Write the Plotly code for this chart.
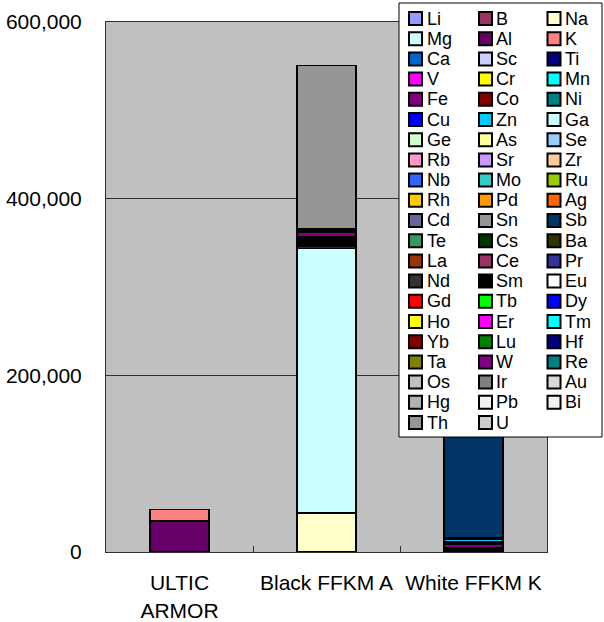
import plotly.graph_objects as go

# ---------------- data ----------------
elements = ["Li", "B", "Na", "Mg", "Al", "K", "Ca", "Sc", "Ti", "V", "Cr", "Mn",
            "Fe", "Co", "Ni", "Cu", "Zn", "Ga", "Ge", "As", "Se", "Rb", "Sr", "Zr",
            "Nb", "Mo", "Ru", "Rh", "Pd", "Ag", "Cd", "Sn", "Sb", "Te", "Cs", "Ba",
            "La", "Ce", "Pr", "Nd", "Sm", "Eu", "Gd", "Tb", "Dy", "Ho", "Er", "Tm",
            "Yb", "Lu", "Hf", "Ta", "W", "Re", "Os", "Ir", "Au", "Hg", "Pb", "Bi",
            "Th", "U"]

colors = ["#9999FF", "#993366", "#FFFFCC", "#CCFFFF", "#660066", "#FF8080",
          "#0066CC", "#CCCCFF", "#000080", "#FF00FF", "#FFFF00", "#00FFFF",
          "#800080", "#800000", "#008080", "#0000FF", "#00CCFF", "#CCFFFF",
          "#CCFFCC", "#FFFF99", "#99CCFF", "#FF99CC", "#CC99FF", "#FFCC99",
          "#3366FF", "#33CCCC", "#99CC00", "#FFCC00", "#FF9900", "#FF6600",
          "#666699", "#969696", "#003366", "#339966", "#003300", "#333300",
          "#993300", "#993366", "#333399", "#333333", "#000000", "#FFFFFF",
          "#FF0000", "#00FF00", "#0000FF", "#FFFF00", "#FF00FF", "#00FFFF",
          "#800000", "#008000", "#000080", "#808000", "#800080", "#008080",
          "#C0C0C0", "#808080", "#D9D9D9", "#B2B2B2", "#F2F2F2", "#F2F2F2",
          "#969696", "#CCCCCC"]

samples = ["ULTIC<br>ARMOR", "Black FFKM A", "White FFKM K"]

ultic_armor = {"Al": 35000, "K": 13000}
black_ffkm_a = {"Na": 44000, "Mg": 299500, "Al": 3000, "K": 1500, "Ca": 1500,
                "Sc": 1500, "Ti": 1500, "V": 1500, "Cr": 1500, "Mn": 1500,
                "Fe": 5000, "Co": 1500, "Ni": 1500, "Cu": 1500, "Sn": 184500}
white_ffkm_k = {"Mg": 1250, "Al": 1250, "K": 1250, "Ca": 1250, "Fe": 4000,
                "Co": 1500, "Ni": 1500, "Zn": 3000, "Cd": 1500, "Sb": 153500}

y_ticks = [0, 200000, 400000, 600000]

# ---------------- layout constants ----------------
W, H = 604, 622
L, T, PW, PH = 106, 22, 441, 530
FONT = "Liberation Sans, Arial, sans-serif"


def fx(p):
    return (p - L) / PW


def fy(p):
    return (T + PH - p) / PH


fig = go.Figure()
for el, col in zip(elements, colors):
    vals = [d.get(el) for d in (ultic_armor, black_ffkm_a, white_ffkm_k)]
    fig.add_trace(go.Bar(
        name=el, x=samples, y=vals, width=0.4,
        marker=dict(color=col, line=dict(color="black", width=1.5)),
        showlegend=False, hovertemplate=el + ": %{y:,}<extra></extra>",
    ))

# ---------------- hand-built legend (3 columns) ----------------
shapes = [dict(type="rect", xref="paper", yref="paper",
               x0=fx(399), x1=fx(602), y0=fy(437), y1=fy(3),
               fillcolor="white", line=dict(color="black", width=1), layer="above")]
annotations = []
col_marker_x = [408, 478, 546.5]
col_text_x = [426, 495, 564]
row0, pitch = 18.5, 20.2
for i, (el, col) in enumerate(zip(elements, colors)):
    r, c = divmod(i, 3)
    cy = row0 + r * pitch
    mx = col_marker_x[c]
    shapes.append(dict(type="rect", xref="paper", yref="paper",
                       x0=fx(mx + 1), x1=fx(mx + 14), y0=fy(cy + 6.5), y1=fy(cy - 6.5),
                       fillcolor=col, line=dict(color="black", width=2), layer="above"))
    annotations.append(dict(xref="paper", yref="paper", x=fx(col_text_x[c]), y=fy(cy),
                            xanchor="left", yanchor="middle", text=el, showarrow=False,
                            borderpad=0,
                            font=dict(family=FONT, size=18, color="black")))

fig.update_layout(
    width=W, height=H, autosize=False,
    margin=dict(l=L, r=W - L - PW, t=T, b=H - T - PH, pad=0),
    barmode="stack", bargap=0.6,
    plot_bgcolor="#C0C0C0", paper_bgcolor="white",
    font=dict(family=FONT, size=21, color="black"),
    shapes=shapes, annotations=annotations,
    xaxis=dict(type="category", showline=True, mirror=True, linecolor="#303030",
               linewidth=1, ticks="inside", tickson="boundaries", ticklen=6,
               tickcolor="#303030", showgrid=False, ticklabelstandoff=12,
               tickangle=0, automargin=False,
               tickfont=dict(family=FONT, size=21)),
    yaxis=dict(range=[0, 600000], tickvals=y_ticks, tickformat=",d",
               showline=True, mirror=True, linecolor="#303030", linewidth=1,
               showgrid=True, gridcolor="#303030", gridwidth=1, zeroline=False,
               ticks="", ticklabelstandoff=19, automargin=False,
               tickfont=dict(family=FONT, size=21)),
)

fig.write_html("out.html", config={"displayModeBar": False},
               post_script="document.body.style.margin='0';")
